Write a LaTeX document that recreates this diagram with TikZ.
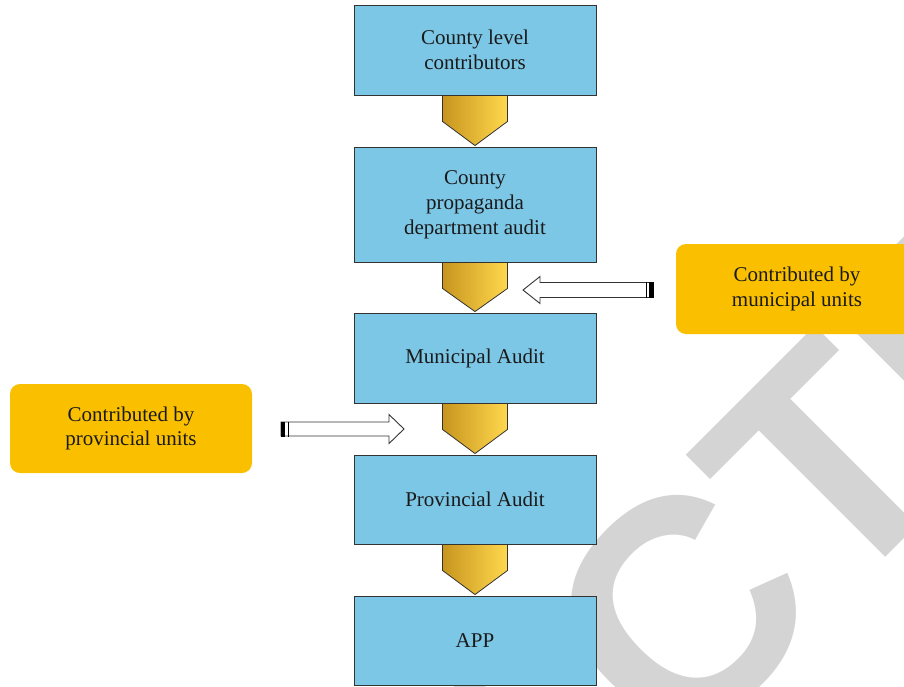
\documentclass[tikz,border=0pt]{standalone}
\usepackage{fontspec}
\setmainfont{Liberation Serif}
\newfontfamily\wmfont{Liberation Sans}
\usetikzlibrary{calc}
\definecolor{boxblue}{HTML}{7DC7E6}
\definecolor{boxorange}{HTML}{FAC000}
\definecolor{goldL}{HTML}{C8951E}
\definecolor{goldM}{HTML}{E6B200}
\definecolor{goldR}{HTML}{FFD84E}
\definecolor{wmgray}{RGB}{212,212,212}
\definecolor{txt}{HTML}{1A1A1A}
\definecolor{edge}{HTML}{333333}
\begin{document}
\begin{tikzpicture}[x=1pt,y=-1pt,
  bluebox/.style={draw=edge, line width=0.9pt, fill=boxblue, minimum width=242pt,
    inner sep=0pt, align=center, text=txt, font=\fontsize{21}{25}\selectfont},
  orangebox/.style={fill=boxorange, rounded corners=10pt, minimum width=242pt,
    minimum height=90pt, inner sep=0pt, align=center, text=txt,
    font=\fontsize{21}{24.5}\selectfont},
  goldarrow/.style={draw=edge, line width=0.8pt, left color=goldL, middle color=goldM,
    right color=goldR, shading angle=90},
  hollow/.style={draw=edge, line width=0.9pt, fill=white},
  tailbar/.style={fill=black, draw=none}]
\useasboundingbox (0,0) rectangle (904,686);
% watermark
\begin{scope}
  \clip (0,0) rectangle (904,686);
  \node[anchor=base west, inner sep=0pt, rotate=45, text=wmgray,
    font=\wmfont\bfseries\fontsize{310}{310}\selectfont] (wm) at (-79,1522) {RETRACTED};
\end{scope}
% blue boxes
\node[bluebox, minimum height=90pt] (b1) at (475,50) {County level\\contributors};
\node[bluebox, minimum height=115pt] (b2) at (475,204.5) {County\\propaganda\\department audit};
\node[bluebox, minimum height=90pt] (b3) at (475,358) {Municipal Audit};
\node[bluebox, minimum height=89pt] (b4) at (475,499.5) {Provincial Audit};
\node[bluebox, minimum height=89pt] (b5) at (475,640.5) {APP};
% gold pentagon arrows
\foreach \a/\b in {b1/b2, b2/b3, b3/b4, b4/b5}{
  \path[goldarrow] ($(\a.south)+(-32.5,0)$) -- ++(0,26) -- ($(\b.north)+(0,-1)$)
    -- ($(\a.south)+(32.5,26)$) -- ($(\a.south)+(32.5,0)$) -- cycle;
}
% orange boxes
\begin{scope}
  \clip (0,0) rectangle (904,686);
  \node[orangebox] (om) at (797,289) {Contributed by\\municipal units};
\end{scope}
\node[orangebox, minimum height=89pt] (op) at (131,428.5) {Contributed by\\provincial units};
% hollow arrow from municipal units
\coordinate (rt) at (523,290);
\coordinate (rs) at (653,290);
\path[hollow] (rt) -- ($(rt)+(17,-13.5)$) -- ($(rt)+(17,-7.5)$) -- ($(rs)+(0,-7.5)$)
  -- ($(rs)+(0,7.5)$) -- ($(rt)+(17,7.5)$) -- ($(rt)+(17,13.5)$) -- cycle;
\fill[tailbar] ($(rs)+(-4,-8)$) rectangle ($(rs)+(0.5,8)$);
\fill[tailbar] ($(rs)+(-7.5,-8)$) rectangle ($(rs)+(-6.5,8)$);
% hollow arrow from provincial units
\coordinate (lt) at (404,429);
\coordinate (ls) at (281,429);
\path[hollow] (lt) -- ($(lt)+(-15,-14.5)$) -- ($(lt)+(-15,-7)$) -- ($(ls)+(0,-7)$)
  -- ($(ls)+(0,7)$) -- ($(lt)+(-15,7)$) -- ($(lt)+(-15,14.5)$) -- cycle;
\fill[tailbar] ($(ls)+(-0.5,-7.5)$) rectangle ($(ls)+(4,7.5)$);
\fill[tailbar] ($(ls)+(6.5,-7.5)$) rectangle ($(ls)+(7.5,7.5)$);
\end{tikzpicture}
\end{document}
